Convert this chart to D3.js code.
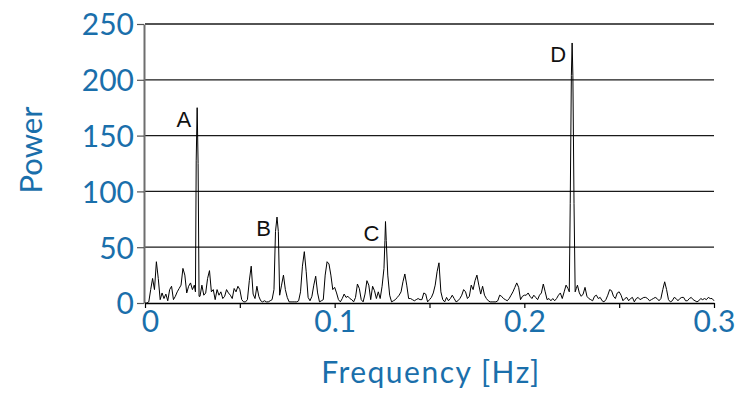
<!DOCTYPE html>
<html><head><meta charset="utf-8">
<script src="https://cdn.jsdelivr.net/npm/d3@7"></script>
<style>body{margin:0;background:#fff}</style></head>
<body><svg id="c" width="742" height="393"></svg>
<script>
// Spectrum, frequency in mHz, power in arbitrary units
const frequencyMHz = [
0,1,2,3,4,5,6,7,8,9,10,11,12,13,14,15,16,17,18,19,20,21,22,23,24,25,26,26.6,27,27.5,28,28.5,
29,30,31,32,33,34,35,36,37,38,39,40,41,42,43,44,45,46,47,48,49,50,
51,52,53,54,55,56,57,58,59,60,61,62,63,64,65,66,67,68,68.8,69.6,70.3,
71,72,73,74,75,76,77,78,79,80,81,82,83,84,85,86,87,88,89,90,91,92,93,94,95,96,97,98,99,100,
101,102,103,104,105,106,107,108,109,110,111,112,113,114,115,116,117,118,119,120,121,122,123,124,125,126,126.5,126.8,127.2,
128,129,130,131,132,133,134,135,136,137,138,139,140,141,142,143,144,145,146,147,148,149,150,
151,152,153,154,155,156,157,158,159,160,161,162,163,164,165,166,167,168,169,170,171,172,173,174,175,
176,177,178,179,180,181,182,183,184,185,186,187,188,189,190,191,192,193,194,195,196,197,198,199,200,
201,202,203,204,205,206,207,208,209,210,211,212,213,214,215,216,217,218,219,220,221,222,223,
223.7,224.2,224.8,225.2,225.6,226.2,226.8,227.4,228,229,230,231,232,233,234,235,236,237,238,239,240,
241,242,243,244,245,246,247,248,249,250,
251,252,253,254,255,256,257,258,259,260,261,262,263,264,265,266,267,268,269,270,271,272,273,274,275,
276,277,278,279,280,281,282,283,284,285,286,287,288,289,290,291,292,293,294,295,296,297,298,299,300
];
const power = [
0,0,1,12,22,12,37,22,3,9,4,8,2,12,15,3,6,10,13,16,31,25,9,15,18,12,16,10,128,175,125,6,
6,16,7,9,22,29,10,12,3,12,7,10,4,6,12,9,7,4,13,10,15,12,
3,1,1,3,20,33,8,4,15,6,2,1,2,1,1,2,3,12,64,77,64,
7,16,25,12,5,1,1,1,1,1,2,10,33,46,28,5,2,6,16,24,9,1,2,3,25,37,35,25,12,14,
9,3,1,4,8,5,6,4,3,1,5,17,13,3,1,8,20,16,3,15,11,4,10,4,15,31,56,73,56,
25,7,1,2,3,5,7,10,19,26,16,4,4,3,2,3,4,3,3,9,8,1,3,
5,9,16,28,36,10,3,1,5,2,4,7,4,1,2,4,7,12,10,4,6,16,12,20,25,
16,8,15,7,4,2,1,1,1,1,2,7,6,4,3,2,4,7,10,14,18,14,3,6,7,
7,9,6,4,7,5,3,7,9,17,10,3,4,2,4,2,4,7,9,4,10,16,13,
10,89,204,233,204,89,10,13,16,9,6,8,14,6,4,3,2,6,7,4,5,
2,1,3,7,12,11,6,4,9,10,
7,2,4,5,2,4,5,1,4,5,3,4,5,5,4,2,3,4,5,4,2,4,12,19,12,
3,1,2,5,4,2,4,5,5,2,2,4,5,3,2,1,2,4,3,4,3,5,4,4,2
];
const peakLabels = ["A", "B", "C", "D"];
const peakFrequencyMHz = [27.5, 69.6, 126.8, 225.2];
const xTickValues = [0, 0.05, 0.1, 0.15, 0.2, 0.25, 0.3];
const xTickLabels = ["0", "", "0.1", "", "0.2", "", "0.3"];
const yTickValues = [0, 50, 100, 150, 200, 250];
const xTitle = "Frequency [Hz]";
const yTitle = "Power";

const W = 742, H = 393, m = {l: 145, r: 28, t: 24, b: 90};
const blue = "#1a6fab";
const svg = d3.select("#c");
const x = d3.scaleLinear().domain([0, 0.3]).range([m.l, W - m.r]);
const y = d3.scaleLinear().domain([0, 250]).range([H - m.b, m.t]);

// grid
svg.append("g").selectAll("line").data(yTickValues.filter(v => v > 0)).join("line")
  .attr("x1", x(0)).attr("x2", x(0.3))
  .attr("y1", d => y(d)).attr("y2", d => y(d))
  .attr("stroke", "#1a1a1a").attr("stroke-width", 1.3);

// y axis
const ya = svg.append("g").attr("transform", `translate(${x(0) - 1},0)`)
  .call(d3.axisLeft(y).tickValues(yTickValues).tickSize(7).tickSizeOuter(0).tickPadding(3));
ya.select(".domain").attr("stroke", "#6e6e6e").attr("stroke-width", 2);
ya.selectAll(".tick line").attr("stroke", "#555").attr("stroke-width", 1.2);
ya.selectAll(".tick text").attr("fill", blue).attr("font-family", "Lato").attr("font-size", 30)
  .attr("dy", "0.36em");

// x axis
const xa = svg.append("g").attr("transform", `translate(0,${y(0)})`)
  .call(d3.axisBottom(x).tickValues(xTickValues).tickSize(5).tickSizeOuter(0).tickPadding(3)
    .tickFormat((d, i) => xTickLabels[i]));
xa.select(".domain").attr("stroke", "#000").attr("stroke-width", 1.5);
xa.selectAll(".tick line").attr("stroke", "#000").attr("stroke-width", 1.2);
xa.selectAll(".tick text").attr("fill", blue).attr("font-family", "Lato").attr("font-size", 30)
  .attr("dx", (d, i) => i === 0 ? 5 : 0);

// spectrum line
const line = d3.line().x((d, i) => x(frequencyMHz[i] / 1000)).y(d => y(d));
svg.append("path").datum(power).attr("d", line)
  .attr("fill", "none").attr("stroke", "#000").attr("stroke-width", 1).attr("stroke-linejoin", "miter");

// peak labels
svg.append("g").selectAll("text").data(peakLabels).join("text")
  .attr("x", (d, i) => x(peakFrequencyMHz[i] / 1000) - 6)
  .attr("y", (d, i) => y(power[frequencyMHz.indexOf(peakFrequencyMHz[i])]) + 19)
  .attr("text-anchor", "end").attr("font-family", "Liberation Sans").attr("font-size", 22)
  .attr("fill", "#111").text(d => d);

// titles
svg.append("text").attr("x", 431).attr("y", 383).attr("text-anchor", "middle")
  .attr("font-family", "Lato").attr("font-size", 30).attr("letter-spacing", 1.5)
  .attr("fill", blue).text(xTitle);
svg.append("text").attr("transform", "translate(42,150) rotate(-90)").attr("text-anchor", "middle")
  .attr("font-family", "Lato").attr("font-size", 31).attr("fill", blue).text(yTitle);
</script></body></html>
